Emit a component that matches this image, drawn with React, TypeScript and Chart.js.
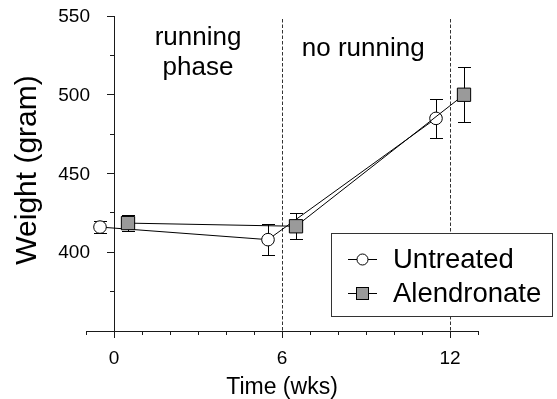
import React, { useEffect, useRef } from 'react';
import { Chart, registerables } from 'chart.js';

Chart.register(...registerables);

const FONT = '"Liberation Sans", Arial, Helvetica, sans-serif';

// ---- data ----
const untreatedWeeks = [-0.5, 5.5, 11.5];
const untreatedWeight = [416, 408, 485];
const untreatedSem = [4, 10, 12.3];
const alendronateWeeks = [0.5, 6.5, 12.5];
const alendronateWeight = [418.5, 416.5, 500];
const alendronateSem = [5.3, 8.4, 17.4];
const xTickLabels = [0, 6, 12];
const yTickLabels = [400, 450, 500, 550];
const phaseBoundaries = [6, 12];
const seriesNames = ['Untreated', 'Alendronate'];
const phaseLabels = [
  { lines: ['running', 'phase'], week: 3.0 },
  { lines: ['no running'], week: 8.9 },
];

const AXIS_COLOR = '#1a1a1a';
const SQUARE_FILL = '#9a9a9a';

const errorBarPlugin = {
  id: 'errorBars',
  beforeDatasetsDraw(chart: any) {
    const { ctx, scales } = chart;
    const x = scales.x;
    const y = scales.y;
    ctx.save();
    ctx.strokeStyle = '#000';
    ctx.lineWidth = 1;
    chart.data.datasets.forEach((ds: any) => {
      ds.data.forEach((p: any) => {
        const px = Math.round(x.getPixelForValue(p.x)) + 0.5;
        const yt = Math.round(y.getPixelForValue(p.y + p.err)) + 0.5;
        const yb = Math.round(y.getPixelForValue(p.y - p.err)) + 0.5;
        const cap = 6.5;
        ctx.beginPath();
        ctx.moveTo(px, yt);
        ctx.lineTo(px, yb);
        ctx.moveTo(px - cap, yt);
        ctx.lineTo(px + cap, yt);
        ctx.moveTo(px - cap, yb);
        ctx.lineTo(px + cap, yb);
        ctx.stroke();
      });
    });
    ctx.restore();
  },
};

const phasePlugin = {
  id: 'phases',
  beforeDatasetsDraw(chart: any) {
    const { ctx, chartArea, scales } = chart;
    const x = scales.x;
    ctx.save();
    ctx.strokeStyle = '#333';
    ctx.lineWidth = 1;
    ctx.setLineDash([3.5, 2]);
    phaseBoundaries.forEach((w) => {
      const px = Math.round(x.getPixelForValue(w)) + 0.5;
      ctx.beginPath();
      ctx.moveTo(px, chartArea.top + 3);
      ctx.lineTo(px, chartArea.bottom);
      ctx.stroke();
    });
    ctx.setLineDash([]);
    ctx.fillStyle = '#000';
    ctx.font = `26px ${FONT}`;
    ctx.textAlign = 'center';
    ctx.textBaseline = 'alphabetic';
    phaseLabels.forEach((lab) => {
      const px = x.getPixelForValue(lab.week);
      lab.lines.forEach((t, i) => {
        const base = lab.lines.length > 1 ? chartArea.top + 29 + i * 30 : chartArea.top + 40;
        ctx.fillText(t, px, base);
      });
    });
    ctx.restore();
  },
};

const yLabelPlugin = {
  id: 'yLabels',
  afterDraw(chart: any) {
    const { ctx, scales } = chart;
    const x = scales.x;
    const y = scales.y;
    ctx.save();
    ctx.fillStyle = '#000';
    ctx.font = `19px ${FONT}`;
    ctx.textAlign = 'right';
    ctx.textBaseline = 'middle';
    const right = x.getPixelForValue(0) - 24;
    yTickLabels.forEach((v) => {
      ctx.fillText(String(v), right, y.getPixelForValue(v) + 1);
    });
    // y-axis title
    ctx.translate(28, 170);
    ctx.rotate(-Math.PI / 2);
    ctx.font = `30px ${FONT}`;
    ctx.textAlign = 'center';
    ctx.textBaseline = 'middle';
    ctx.fillText('Weight (gram)', 0, 0);
    ctx.restore();
  },
};

const legendPlugin = {
  id: 'boxLegend',
  afterDraw(chart: any) {
    const { ctx } = chart;
    const bx = 331.5;
    const by = 233.5;
    const bw = 221;
    const bh = 83;
    ctx.save();
    ctx.fillStyle = '#fff';
    ctx.fillRect(bx, by, bw, bh);
    ctx.strokeStyle = '#333';
    ctx.lineWidth = 1;
    ctx.strokeRect(bx, by, bw, bh);
    const rows = [259, 293];
    chart.data.datasets.forEach((ds: any) => {
      const cy = Math.round(rows[ds.legendRow]) + 0.5;
      const cx = 362.5;
      ctx.strokeStyle = '#000';
      ctx.beginPath();
      ctx.moveTo(348, cy);
      ctx.lineTo(377, cy);
      ctx.stroke();
      if (ds.pointStyle === 'circle') {
        ctx.fillStyle = '#fff';
        ctx.beginPath();
        ctx.arc(cx, cy, 5.5, 0, Math.PI * 2);
        ctx.fill();
        ctx.stroke();
      } else {
        ctx.fillStyle = SQUARE_FILL;
        ctx.fillRect(cx - 6, cy - 6, 12, 12);
        ctx.strokeRect(cx - 6, cy - 6, 12, 12);
      }
      ctx.fillStyle = '#000';
      ctx.font = `27.5px ${FONT}`;
      ctx.textAlign = 'left';
      ctx.textBaseline = 'middle';
      ctx.fillText(ds.label, 393, cy + 1);
    });
    ctx.restore();
  },
};

export default function App() {
  const ref = useRef<HTMLCanvasElement | null>(null);

  useEffect(() => {
    if (!ref.current) return;
    const untreated = untreatedWeeks.map((w, i) => ({ x: w, y: untreatedWeight[i], err: untreatedSem[i] }));
    const alendronate = alendronateWeeks.map((w, i) => ({ x: w, y: alendronateWeight[i], err: alendronateSem[i] }));

    const chart = new Chart(ref.current, {
      type: 'line',
      data: {
        datasets: [
          {
            label: seriesNames[0],
            data: untreated,
            borderColor: '#000',
            borderWidth: 1,
            pointStyle: 'circle',
            pointRadius: 6.3,
            pointBackgroundColor: '#fff',
            pointBorderColor: '#000',
            pointBorderWidth: 1,
            fill: false,
            tension: 0,
            order: 2,
            legendRow: 0,
          } as any,
          {
            label: seriesNames[1],
            data: alendronate,
            borderColor: '#000',
            borderWidth: 1,
            pointStyle: 'rect',
            pointRadius: 9.4,
            pointBackgroundColor: SQUARE_FILL,
            pointBorderColor: '#000',
            pointBorderWidth: 1,
            fill: false,
            tension: 0,
            order: 1,
            legendRow: 1,
          } as any,
        ],
      },
      options: {
        responsive: false,
        animation: false,
        events: [],
        layout: { padding: { left: 86, right: 79, top: 16, bottom: 0 } },
        plugins: {
          legend: { display: false },
          tooltip: { enabled: false },
          title: { display: false },
        },
        scales: {
          x: {
            type: 'linear',
            min: -1,
            max: 13,
            afterFit: (s: any) => {
              s.height = 68;
            },
            border: { display: true, color: AXIS_COLOR, width: 1 },
            grid: { drawOnChartArea: false, drawTicks: true, tickLength: 4, tickColor: AXIS_COLOR },
            ticks: {
              stepSize: 1,
              autoSkip: false,
              maxRotation: 0,
              padding: 12,
              color: '#000',
              font: { family: FONT, size: 19 },
              callback: (v: any) => (xTickLabels.includes(Number(v)) ? String(v) : ''),
            },
            title: {
              display: true,
              text: 'Time (wks)',
              color: '#000',
              font: { family: FONT, size: 23, lineHeight: 1 },
              padding: { top: 0, bottom: 0 },
            },
          },
          xMajor: {
            type: 'linear',
            axis: 'x',
            min: -1,
            max: 13,
            position: { y: 350 } as any,
            afterFit: (s: any) => {
              s.height = 0;
            },
            border: { display: false },
            grid: { drawOnChartArea: false, drawTicks: true, tickLength: 7, tickColor: AXIS_COLOR },
            ticks: {
              display: false,
              autoSkip: false,
              callback: (v: any) => (xTickLabels.includes(Number(v)) ? String(v) : null),
              stepSize: 6,
            },
          },
          y: {
            type: 'linear',
            min: 350,
            max: 550,
            position: { x: 0 } as any,
            afterFit: (s: any) => {
              s.width = 0;
            },
            border: { display: true, color: AXIS_COLOR, width: 1 },
            grid: { drawOnChartArea: false, drawTicks: true, tickLength: 4, tickColor: AXIS_COLOR },
            ticks: {
              display: false,
              stepSize: 25,
              autoSkip: false,
            },
            title: { display: false },
          },
          yMajor: {
            type: 'linear',
            axis: 'y',
            min: 350,
            max: 550,
            position: { x: 0 } as any,
            afterFit: (s: any) => {
              s.width = 0;
            },
            border: { display: false },
            grid: { drawOnChartArea: false, drawTicks: true, tickLength: 7, tickColor: AXIS_COLOR },
            ticks: {
              display: false,
              autoSkip: false,
              callback: (v: any) => (yTickLabels.includes(Number(v)) ? String(v) : null),
              stepSize: 50,
            },
            title: { display: false },
          },
        },
      },
      plugins: [errorBarPlugin, phasePlugin, yLabelPlugin, legendPlugin],
    });
    return () => chart.destroy();
  }, []);

  return (
    <div style={{ position: 'fixed', left: 0, top: 0, width: 557, height: 399, background: '#fff' }}>
      <canvas ref={ref} width={557} height={399} style={{ display: 'block' }} />
    </div>
  );
}
